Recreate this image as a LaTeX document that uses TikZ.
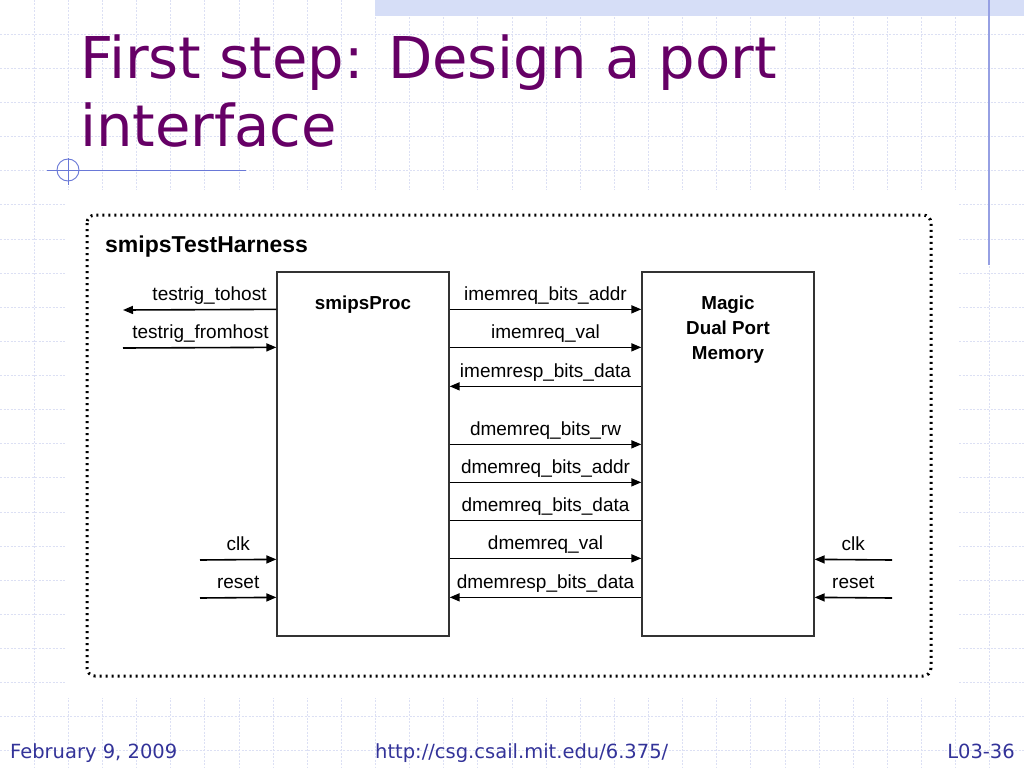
\documentclass[tikz,border=0pt]{standalone}
\usepackage{fontspec}
\setmainfont{Liberation Sans}
\newfontfamily\slidefont{DejaVu Sans}
\usetikzlibrary{positioning,arrows.meta}

\definecolor{titlepurple}{RGB}{102,0,102}
\definecolor{footblue}{RGB}{51,51,153}
\definecolor{gridcol}{RGB}{220,224,244}
\definecolor{decoblue}{RGB}{105,120,215}
\definecolor{bandblue}{RGB}{214,222,247}

\tikzset{
  gridline/.style={gridcol, line width=0.8pt, dash pattern=on 2pt off 1.5pt},
  blockbox/.style={draw=black!80, line width=1.3pt, minimum width=172pt, minimum height=364pt, inner sep=0pt},
  wire/.style={line width=1.6pt},
  tomem/.style={wire, -{Triangle[length=10pt,width=8pt]}},
  toproc/.style={wire, {Triangle[length=10pt,width=8pt]}-},
  plain/.style={wire},
  lbl/.style={font=\fontsize{19}{22}\selectfont, inner sep=0pt, anchor=base},
  blocklbl/.style={font=\fontsize{18.8}{25}\selectfont\bfseries, inner sep=0pt, align=center},
  titlelbl/.style={font=\slidefont\fontsize{57.6}{68}\selectfont, text=titlepurple, inner sep=0pt, anchor=base west},
  footlbl/.style={font=\slidefont\fontsize{19.5}{22}\selectfont, text=footblue, inner sep=0pt},
}

\begin{document}
\begin{tikzpicture}[x=1pt, y=-1pt]
\useasboundingbox (0,0) rectangle (1024,768);
% Background grid
\fill[white] (0,0) rectangle (1024,768);
\foreach \i in {1,...,29}
  \draw[gridline] (\i*34.13,0) -- (\i*34.13,768);
\foreach \j in {1,...,22}
  \draw[gridline] (0,\j*34.13) -- (1024,\j*34.13);
% Top band and right rule
\fill[bandblue] (375,0) rectangle (1024,16);
\draw[decoblue!70, line width=1.5pt] (989,0) -- (989,265);
% Title
\node[titlelbl] (title1) at (80,78) {First step: Design a port};
\node[titlelbl] (title2) at (80,146) {interface};
% Title underline with circle mark
\draw[decoblue, line width=0.9pt] (47,170) -- (246,170);
\draw[decoblue, line width=0.9pt] (68,170) circle (11);
\draw[decoblue, line width=0.9pt] (68,158) -- (68,185);
% White area of the diagram
\fill[white] (65,190) rectangle (958,698);
% Harness border
\draw[line width=3pt, dash pattern=on 2pt off 4pt, rounded corners=8pt] (87,215) rectangle (931,676);
\node[font=\fontsize{23}{26}\selectfont\bfseries, inner sep=0pt, anchor=base west] (harness) at (105,252) {smipsTestHarness};
% Blocks
\node[blockbox] (proc) at (363,454) {};
\node[blockbox] (mem) at (728,454) {};
\node[blocklbl, anchor=base] (proclbl) at ([yshift=-38pt]proc.north) {smipsProc};
\node[blocklbl, anchor=north] (memlbl) at ([yshift=-24pt]mem.north) {Magic\\Dual Port\\Memory};
% Signals between processor and memory
\foreach \dy/\txt/\dir in {38/imemreq\_bits\_addr/tomem, 76/imemreq\_val/tomem,
    115/imemresp\_bits\_data/toproc, 173/dmemreq\_bits\_rw/tomem,
    211/dmemreq\_bits\_addr/tomem, 249/dmemreq\_bits\_data/plain,
    287/dmemreq\_val/tomem, 326/dmemresp\_bits\_data/toproc}
  \draw[style=\dir] ([yshift=-\dy pt]proc.north east) -- node[lbl, yshift=9pt] {\txt} ([yshift=-\dy pt]mem.north west);
% Host signals
\coordinate (tohost) at (123,310);
\coordinate (fromhost) at (123,348);
\draw[tomem] ([yshift=-38pt]proc.north west) -- (tohost)
  node[lbl, anchor=base east, pos=0, xshift=-9pt, yshift=9pt] {testrig\_tohost};
\draw[tomem] (fromhost) -- ([yshift=-76pt]proc.north west)
  node[lbl, anchor=base east, pos=1, xshift=-7pt, yshift=9pt] {testrig\_fromhost};
% Clock and reset
\coordinate (clkp) at (200,560);
\coordinate (rstp) at (200,598);
\coordinate (clkm) at (892,560);
\coordinate (rstm) at (892,598);
\draw[tomem] (clkp) -- node[lbl, yshift=9pt] {clk} ([yshift=-288pt]proc.north west);
\draw[tomem] (rstp) -- node[lbl, yshift=9pt] {reset} ([yshift=-326pt]proc.north west);
\draw[tomem] (clkm) -- node[lbl, yshift=9pt] {clk} ([yshift=-288pt]mem.north east);
\draw[tomem] (rstm) -- node[lbl, yshift=9pt] {reset} ([yshift=-326pt]mem.north east);
% Footer
\node[footlbl, anchor=base west] (date) at (10,758) {February 9, 2009};
\node[footlbl, anchor=base west] (url) at (375,758) {http://csg.csail.mit.edu/6.375/};
\node[footlbl, anchor=base east] (slideno) at (1015,758) {L03-36};
\end{tikzpicture}
\end{document}
